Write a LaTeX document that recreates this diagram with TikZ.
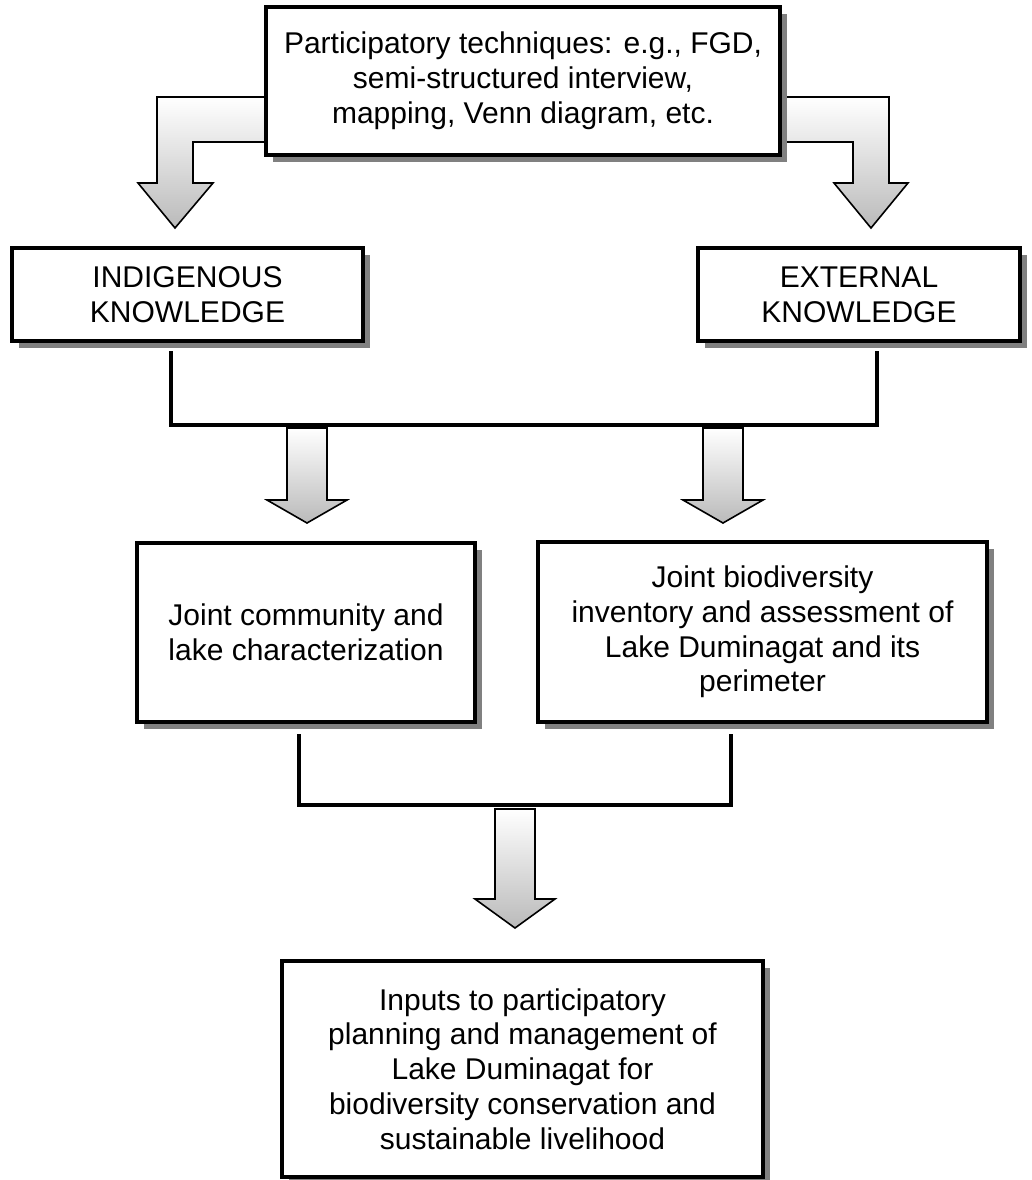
\documentclass[tikz,border=0pt]{standalone}
\usepackage{fontspec}
\setmainfont{Liberation Sans}
\usetikzlibrary{shadows}
\tikzset{
  box/.style={draw, line width=2pt, fill=white, align=center, inner sep=0pt,
    font=\fontsize{15pt}{17.4pt}\selectfont,
    drop shadow={shadow xshift=3.5pt, shadow yshift=-3.5pt, fill=black!50, opacity=1}},
  joinline/.style={line width=2.2pt},
  blockarrow/.style={draw, line width=0.8pt, line join=miter, top color=white, bottom color=black!27},
}
\newcommand{\dnarrow}[4]{%
  \path[blockarrow] (#1-20,#2) -- (#1+20,#2) -- (#1+20,#3) -- (#1+40,#3)
    -- (#1,#4) -- (#1-40,#3) -- (#1-20,#3) -- cycle;}

\begin{document}
\begin{tikzpicture}[x=0.5pt, y=-0.5pt]
  \useasboundingbox (0,0) rectangle (1032,1180);
  % bent arrows out of the top box
  \path[blockarrow] (270,97) -- (157,97) -- (157,183) -- (138,183) -- (175,228)
    -- (213,183) -- (193,183) -- (193,142) -- (270,142) -- cycle;
  \path[blockarrow] (776,97) -- (889,97) -- (889,183) -- (908,183) -- (871,228)
    -- (834,183) -- (853,183) -- (853,142) -- (776,142) -- cycle;
  \node[box, minimum width=257pt, minimum height=74pt] (parti) at (523,81)
    {Participatory techniques: e.g., FGD,\\semi-structured interview,\\mapping, Venn diagram, etc.};
  \node[box, minimum width=175.5pt, minimum height=46.5pt] (indig) at (187.5,294.5)
    {INDIGENOUS\\KNOWLEDGE};
  \node[box, minimum width=161pt, minimum height=46.5pt] (extern) at (859,294.5)
    {EXTERNAL\\KNOWLEDGE};
  \node[box, minimum width=169pt, minimum height=89.5pt] (comm) at (306,632.5)
    {Joint community and\\lake characterization};
  \node[box, minimum width=224.5pt, minimum height=90pt] (bio) at (762.5,632)
    {Joint biodiversity\\inventory and assessment of\\Lake Duminagat and its\\perimeter};
  \node[box, minimum width=240.5pt, minimum height=108pt] (inputs) at (522.5,1069)
    {Inputs to participatory\\planning and management of\\Lake Duminagat for\\biodiversity conservation and\\sustainable livelihood};
  % joining lines
  \draw[joinline] ([xshift=-8.25pt,yshift=-4pt]indig.south) -- ++(0,74)
    -| ([xshift=9pt,yshift=-4pt]extern.south);
  \draw[joinline] ([xshift=-3.5pt,yshift=-5pt]comm.south) -- ++(0,71)
    -| ([xshift=-15.75pt,yshift=-5pt]bio.south);
  % down arrows
  \dnarrow{307}{428}{500}{523}
  \dnarrow{723}{428}{500}{523}
  \dnarrow{515}{809}{899}{928}
\end{tikzpicture}
\end{document}
